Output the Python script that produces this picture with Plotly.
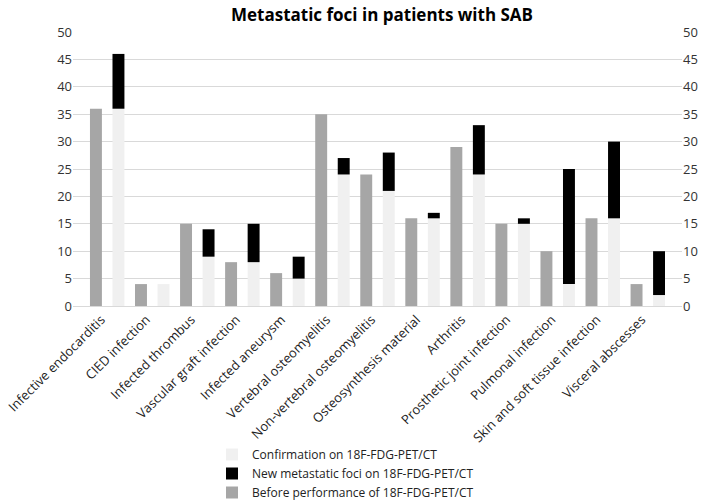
import plotly.graph_objects as go

categories = [
    "Infective endocarditis", "CIED infection", "Infected thrombus",
    "Vascular graft infection", "Infected aneurysm", "Vertebral osteomyelitis",
    "Non-vertebral osteomyelitis", "Osteosynthesis material", "Arthritis",
    "Prosthetic joint infection", "Pulmonal infection",
    "Skin and soft tissue infection", "Visceral abscesses",
]
before = [36, 4, 15, 8, 6, 35, 24, 16, 29, 15, 10, 16, 4]
confirmation = [36, 4, 9, 8, 5, 24, 21, 16, 24, 15, 4, 16, 2]
new_foci = [10, 0, 5, 7, 4, 3, 7, 1, 9, 1, 21, 14, 8]
y_ticks = [0, 5, 10, 15, 20, 25, 30, 35, 40, 45, 50]

FONT = "Open Sans"

fig = go.Figure()
fig.add_trace(go.Bar(
    x=categories, y=before, name="Before performance of 18F-FDG-PET/CT",
    marker=dict(color="#a6a6a6", line=dict(width=0)),
    offsetgroup="before", legendrank=3, legendgroup="c",
))
fig.add_trace(go.Bar(
    x=categories, y=confirmation, name="Confirmation on 18F-FDG-PET/CT",
    marker=dict(color="#f0f0f0", line=dict(width=0)),
    offsetgroup="after", legendrank=1, legendgroup="a",
))
fig.add_trace(go.Bar(
    x=categories, y=new_foci, base=confirmation,
    name="New metastatic foci on 18F-FDG-PET/CT",
    marker=dict(color="#000000", line=dict(width=0)),
    offsetgroup="after", legendrank=2, legendgroup="b",
))
# invisible trace to carry the right-hand axis
fig.add_trace(go.Scatter(
    x=categories, y=before, yaxis="y2", mode="markers",
    marker=dict(opacity=0), showlegend=False, hoverinfo="skip",
))

fig.update_layout(
    width=709, height=501,
    margin=dict(l=73, r=27, t=32, b=195, autoexpand=False),
    paper_bgcolor="white", plot_bgcolor="white",
    font=dict(family=FONT, size=12, color="#333333"),
    title=dict(
        text="<b>Metastatic foci in patients with SAB</b>",
        font=dict(family=FONT, size=17, color="#000000"),
        x=382 / 709, xanchor="center", xref="container",
        y=1 - 15 / 501, yanchor="middle", yref="container",
    ),
    barmode="group", bargap=0.0, bargroupgap=0.47,
    showlegend=True,
    legend=dict(
        xref="container", yref="container",
        x=212 / 709, xanchor="left",
        y=1 - 440 / 501, yanchor="top",
        font=dict(family=FONT, size=12, color="#222222"),
        traceorder="normal", itemwidth=30, tracegroupgap=3,
        bgcolor="rgba(0,0,0,0)",
    ),
    xaxis=dict(
        type="category", tickangle=-45, showgrid=False, automargin=False,
        showline=True, linecolor="#d9d9d9", linewidth=1,
        ticks="", ticklabelshift=-6,
        tickfont=dict(family=FONT, size=13, color="#222222"),
    ),
    yaxis=dict(
        range=[0, 50], tickvals=y_ticks, showgrid=True, automargin=False,
        gridcolor="#d9d9d9", gridwidth=1, zeroline=False,
        showline=False, ticks="", ticklen=0,
        tickfont=dict(family=FONT, size=13, color="#333333"),
    ),
    yaxis2=dict(
        range=[0, 50], tickvals=y_ticks, overlaying="y", side="right",
        showgrid=False, zeroline=False, showline=False, ticks="",
        automargin=False,
        tickfont=dict(family=FONT, size=13, color="#333333"),
    ),
)

fig.write_html(
    "out.html",
    config={"displayModeBar": False},
    post_script="document.body.style.margin='0px';document.body.style.overflow='hidden';",
)
